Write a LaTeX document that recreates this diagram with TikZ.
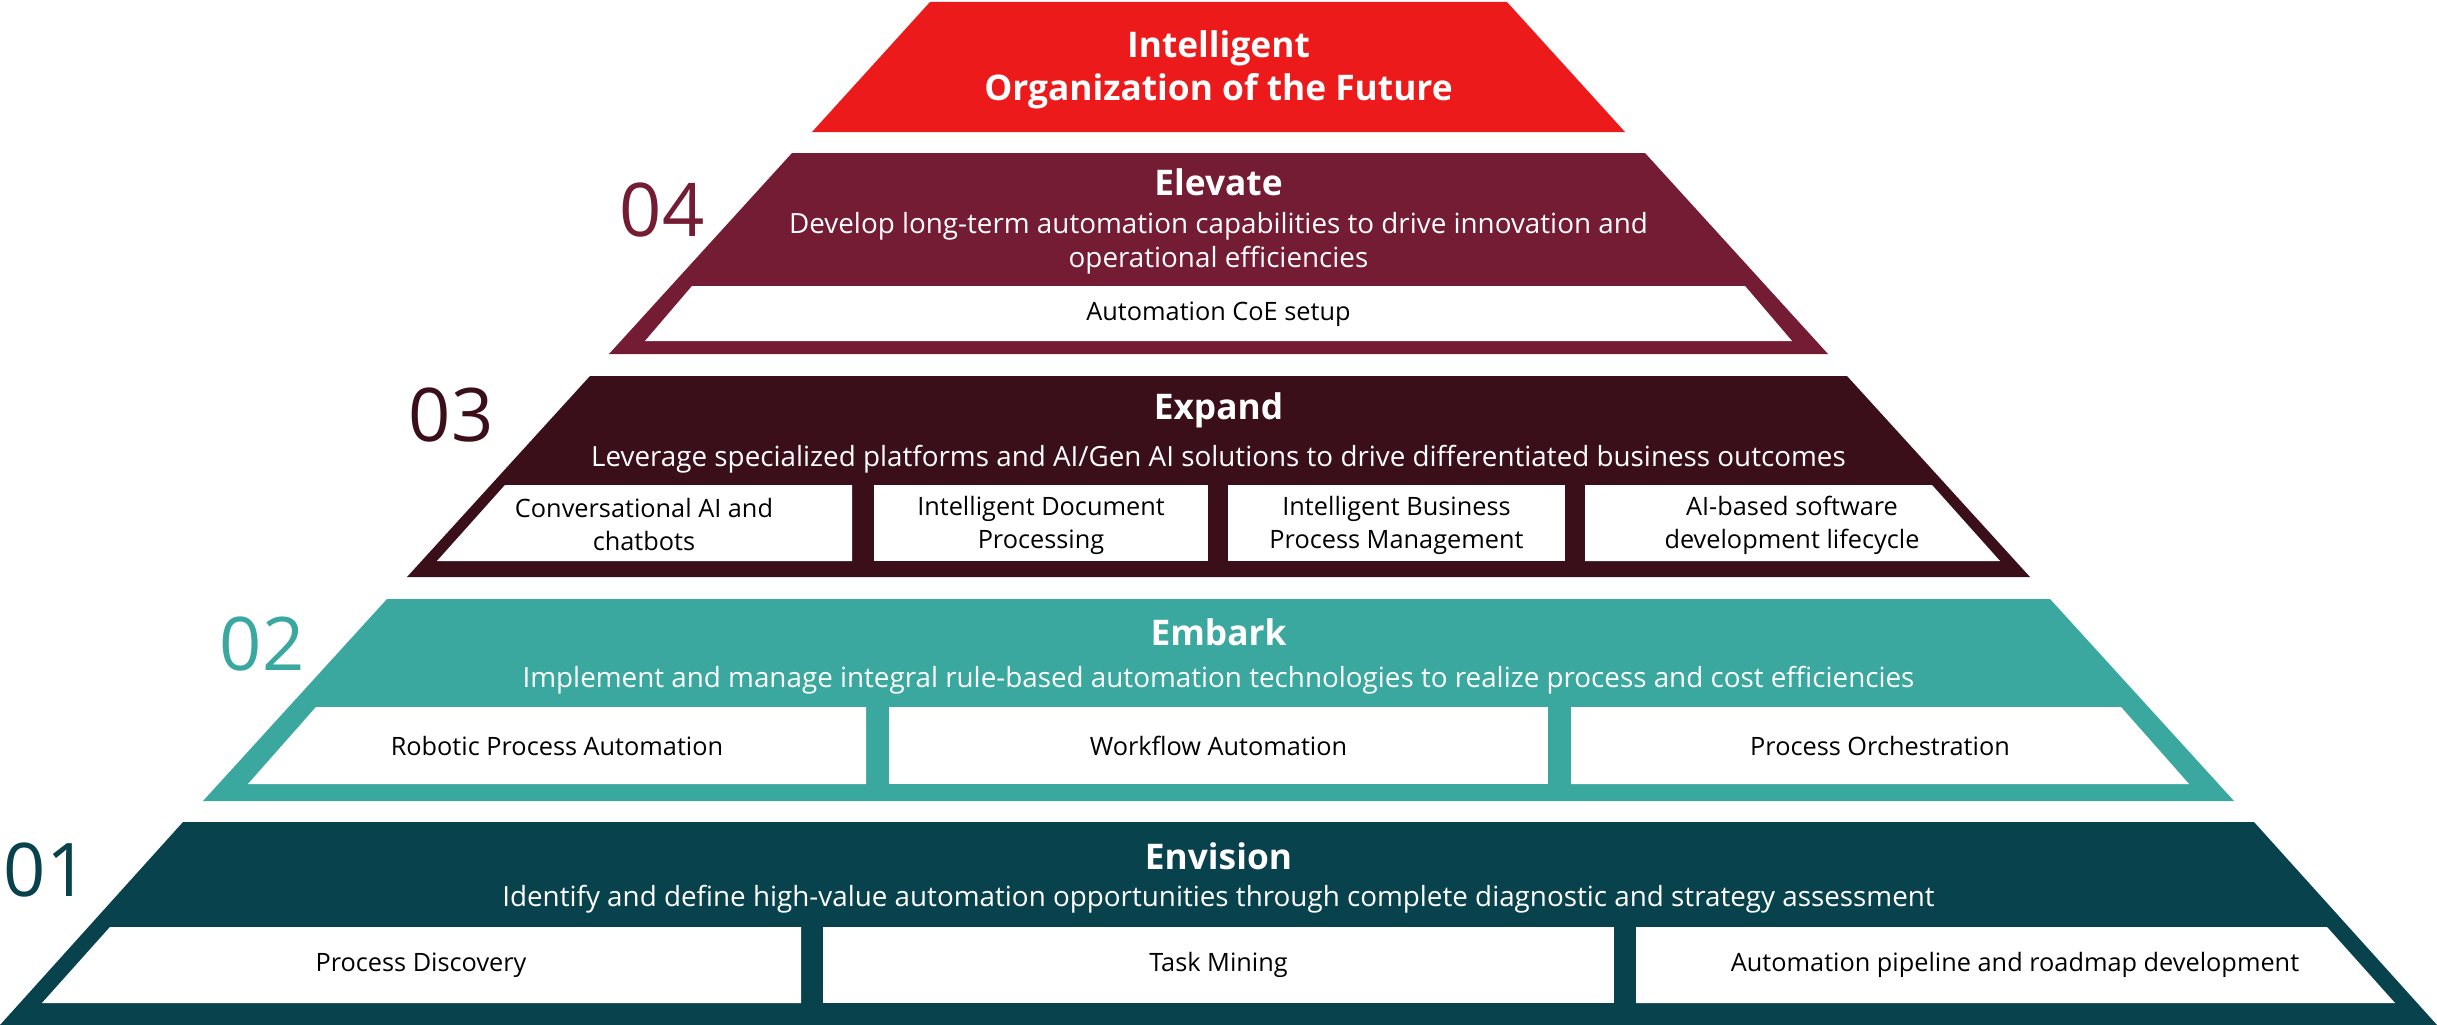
\documentclass[tikz,border=0pt]{standalone}
\usepackage{fontspec}
\setmainfont{Open Sans}
\definecolor{cRed}{HTML}{ED1A1B}
\definecolor{cElev}{HTML}{731C33}
\definecolor{cExp}{HTML}{3B0F19}
\definecolor{cEmb}{HTML}{3AA89E}
\definecolor{cEnv}{HTML}{08424D}
\begin{document}
\begin{tikzpicture}[x=1pt,y=-1pt,
  title/.style={text=white,font=\bfseries\fontsize{35.3}{43}\selectfont,align=center,inner sep=0pt},
  desc/.style={text=white,font=\fontsize{27.8}{34}\selectfont,align=center,inner sep=0pt},
  item/.style={text=black,font=\fontsize{25.3}{33}\selectfont,align=center,inner sep=0pt},
  num/.style={font=\fontsize{74}{80}\selectfont,inner sep=0pt},
  box/.style={fill=white}
]
\useasboundingbox (0,0) rectangle (2437,1025);
% tiers
\fill[cRed]  (930,2) -- (1507,2) -- (1625,132) -- (812,132) -- cycle;
\fill[cElev] (792,153) -- (1645,153) -- (1828,354) -- (609,354) -- cycle;
\fill[cExp]  (590,376) -- (1847,376) -- (2030,577) -- (407,577) -- cycle;
\fill[cEmb]  (387,599) -- (2050,599) -- (2234,801) -- (203,801) -- cycle;
\fill[cEnv]  (183,822) -- (2254,822) -- (2437,1025) -- (0,1025) -- cycle;
% white boxes
\fill[box] (692,286) -- (1745,286) -- (1792,341) -- (645,341) -- cycle;
\fill[box] (505,485) -- (852,485) -- (852,561) -- (437,561) -- cycle;
\fill[box] (874,485) rectangle (1208,561);
\fill[box] (1228,485) rectangle (1565,561);
\fill[box] (1585,485) -- (1932,485) -- (2000,561) -- (1585,561) -- cycle;
\fill[box] (316,707) -- (866,707) -- (866,784) -- (248,784) -- cycle;
\fill[box] (889,707) rectangle (1548,784);
\fill[box] (1571,707) -- (2121,707) -- (2189,784) -- (1571,784) -- cycle;
\fill[box] (110,927) -- (801,927) -- (801,1003) -- (42,1003) -- cycle;
\fill[box] (823,927) rectangle (1614,1003);
\fill[box] (1636,927) -- (2327,927) -- (2395,1003) -- (1636,1003) -- cycle;
% top
\node[title] (top) at (1218.5,70) {Intelligent\\Organization of the Future};
% Elevate
\node[num,text=cElev] (n4) at (662,210) {04};
\node[title] (t4) at (1218.5,182) {Elevate};
\node[desc] (d4) at (1218.5,243) {Develop long-term automation capabilities to drive innovation and\\operational efficiencies};
\node[item] (i41) at (1218.5,314) {Automation CoE setup};
% Expand
\node[num,text=cExp] (n3) at (451,415) {03};
\node[title] (t3) at (1218.5,410) {Expand};
\node[desc] (d3) at (1218.5,459) {Leverage specialized platforms and AI/Gen AI solutions to drive differentiated business outcomes};
\node[item] (i31) at (644,525) {Conversational AI and\\chatbots};
\node[item] (i32) at (1041,525) {Intelligent Document\\Processing};
\node[item] (i33) at (1396.5,525) {Intelligent Business\\Process Management};
\node[item] (i34) at (1792,525) {AI-based software\\development lifecycle};
% Embark
\node[num,text=cEmb] (n2) at (262,644) {02};
\node[title] (t2) at (1218.5,632) {Embark};
\node[desc] (d2) at (1218.5,680) {Implement and manage integral rule-based automation technologies to realize process and cost efficiencies};
\node[item] (i21) at (557,746) {Robotic Process Automation};
\node[item] (i22) at (1218.5,746) {Workflow Automation};
\node[item] (i23) at (1880,746) {Process Orchestration};
% Envision
\node[num,text=cEnv] (n1) at (46,870) {01};
\node[title] (t1) at (1218.5,856) {Envision};
\node[desc] (d1) at (1218.5,899) {Identify and define high-value automation opportunities through complete diagnostic and strategy assessment};
\node[item] (i11) at (421,965) {Process Discovery};
\node[item] (i12) at (1218.5,965) {Task Mining};
\node[item] (i13) at (2015,965) {Automation pipeline and roadmap development};
\end{tikzpicture}
\end{document}
